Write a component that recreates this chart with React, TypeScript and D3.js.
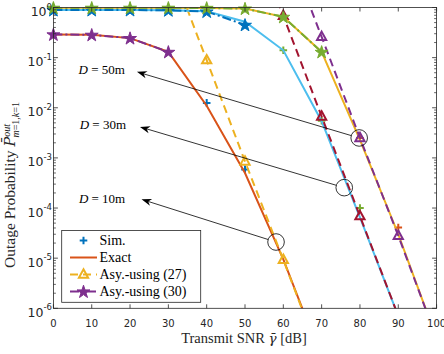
import * as d3 from 'd3';

const W = 444;
const H = 354;

const BLUE = '#0072BD';
const ORANGE = '#D95319';
const YELLOW = '#EDB120';
const PURPLE = '#7E2F8E';
const GREEN = '#77AC30';
const CYAN = '#4DBEEE';
const RED = '#A2142F';
const AX = '#262626';

const SANS = '"DejaVu Sans", Arial, sans-serif';
const SERIF = '"Liberation Serif", "Times New Roman", serif';
const MATH = '"DejaVu Serif", serif';

const xTicks = [0, 10, 20, 30, 40, 50, 60, 70, 80, 90, 100];
const yExps = [0, -1, -2, -3, -4, -5, -6];

// D = 10 m
const sim10X = [40, 50];
const sim10Y = [0.0125, 5.9e-4];
const exact10X = [0, 10, 20, 30, 40, 50, 60, 70];
const exact10Y = [0.29, 0.285, 0.245, 0.13, 0.011, 5e-4, 9.5e-6, 1e-7];
const asy27_10X = [30, 40, 50, 60, 70];
const asy27_10Y = [9, 0.089, 8.5e-4, 9.3e-6, 9e-8];
const asy30_10X = [0, 10, 20, 30];
const asy30_10Y = [0.29, 0.285, 0.245, 0.13];

// D = 30 m
const sim30X = [60, 70, 80];
const sim30Y = [0.14, 5.5e-3, 1.0e-4];
const exact30X = [0, 10, 20, 30, 40, 50, 60, 70, 80, 90];
const exact30Y = [0.89, 0.89, 0.89, 0.88, 0.84, 0.52, 0.14, 5.4e-3, 6.5e-5, 7e-7];
const asy27_30X = [50, 60, 70, 80, 90];
const asy27_30Y = [68, 0.68, 6.7e-3, 6.9e-5, 7e-7];
const asy30_30X = [0, 10, 20, 30, 40, 50];
const asy30_30Y = [0.89, 0.89, 0.89, 0.88, 0.83, 0.45];

// D = 50 m
const sim50X = [80, 90];
const sim50Y = [2.5e-3, 4.1e-5];
const exact50X = [0, 10, 20, 30, 40, 50, 60, 70, 80, 90, 100];
const exact50Y = [0.985, 0.985, 0.985, 0.985, 0.98, 0.95, 0.65, 0.13, 2.3e-3, 3e-5, 2.5e-7];
const asy27_50X = [60, 70, 80, 90, 100];
const asy27_50Y = [25, 0.26, 2.5e-3, 2.8e-5, 2.5e-7];
const asy30_50X = [0, 10, 20, 30, 40, 50, 60, 70];
const asy30_50Y = [0.985, 0.985, 0.985, 0.985, 0.98, 0.95, 0.65, 0.13];

// annotations: label, circled point, text centre, arrow tip (data coords)
const notes = [
  { label: '50m', circle: [79.8, 2.5e-3], text: [12.6, 0.057], tip: [21.8, 0.052] },
  { label: '30m', circle: [75.9, 2.55e-4], text: [12.9, 4.6e-3], tip: [22.6, 4.15e-3] },
  { label: '10m', circle: [58.1, 2.1e-5], text: [12.7, 1.56e-4], tip: [23.0, 1.49e-4] },
];

type Kind = 'sim' | 'exact' | 'asy27' | 'asy30';

const series: { x: number[]; y: number[]; kind: Kind; color: string }[] = [
  { x: sim10X, y: sim10Y, kind: 'sim', color: BLUE },
  { x: exact10X, y: exact10Y, kind: 'exact', color: ORANGE },
  { x: asy27_10X, y: asy27_10Y, kind: 'asy27', color: YELLOW },
  { x: asy30_10X, y: asy30_10Y, kind: 'asy30', color: PURPLE },
  { x: sim30X, y: sim30Y, kind: 'sim', color: GREEN },
  { x: exact30X, y: exact30Y, kind: 'exact', color: CYAN },
  { x: asy27_30X, y: asy27_30Y, kind: 'asy27', color: RED },
  { x: asy30_30X, y: asy30_30Y, kind: 'asy30', color: BLUE },
  { x: sim50X, y: sim50Y, kind: 'sim', color: ORANGE },
  { x: exact50X, y: exact50Y, kind: 'exact', color: YELLOW },
  { x: asy27_50X, y: asy27_50Y, kind: 'asy27', color: PURPLE },
  { x: asy30_50X, y: asy30_50Y, kind: 'asy30', color: GREEN },
];

const legendItems: { label: string; kind: Kind; color: string }[] = [
  { label: 'Sim.', kind: 'sim', color: BLUE },
  { label: 'Exact', kind: 'exact', color: ORANGE },
  { label: 'Asy.-using (27)', kind: 'asy27', color: YELLOW },
  { label: 'Asy.-using (30)', kind: 'asy30', color: PURPLE },
];

const DASH: Record<Kind, string | undefined> = {
  sim: undefined,
  exact: undefined,
  asy27: '8,5',
  asy30: '9,3,2,3',
};

function starPath(R: number) {
  const r = R * 0.382;
  let d = '';
  for (let i = 0; i < 10; i++) {
    const a = -Math.PI / 2 + (i * Math.PI) / 5;
    const rr = i % 2 === 0 ? R : r;
    d += (i ? 'L' : 'M') + (rr * Math.cos(a)).toFixed(2) + ',' + (rr * Math.sin(a)).toFixed(2);
  }
  return d + 'Z';
}

function Marker({ kind, color, cx, cy }: { kind: Kind; color: string; cx: number; cy: number }) {
  if (kind === 'sim') {
    return <path d="M-3.8,0H3.8M0,-3.8V3.8" transform={`translate(${cx},${cy})`} stroke={color} strokeWidth={2} fill="none" />;
  }
  if (kind === 'asy27') {
    return <path d="M0,-5.2L4.6,3.2L-4.6,3.2Z" transform={`translate(${cx},${cy})`} stroke={color} strokeWidth={2} fill="none" />;
  }
  if (kind === 'asy30') {
    return <path d={starPath(6.8)} transform={`translate(${cx},${cy + 0.5})`} stroke={color} strokeWidth={1} fill={color} />;
  }
  return null;
}

export default function App() {
  const x = d3.scaleLinear().domain([0, 100]).range([53.4, 436.6]);
  const y = d3.scaleLog().domain([1e-6, 1]).range([308.3, 7.5]);
  const [x0, x1] = x.range();
  const [yb, yt] = y.range();
  const line = d3.line<[number, number]>().x(d => x(d[0])).y(d => y(d[1]));

  const minor: number[] = [];
  for (let e = -6; e < 0; e++) for (let m = 2; m <= 9; m++) minor.push(m * Math.pow(10, e));

  return (
    <svg width={W} height={H} style={{ position: 'fixed', left: 0, top: 0 }}>
      <defs>
        <clipPath id="plot">
          <rect x={x0} y={yt} width={x1 - x0} height={yb - yt} />
        </clipPath>
      </defs>
      <rect width={W} height={H} fill="#fff" />

      {/* curves */}
      {series.map((s, i) => {
        const pts = s.x.map((v, j) => [v, s.y[j]] as [number, number]);
        return (
          <g key={i}>
            {s.kind !== 'sim' && (
              <path d={line(pts) || ''} clipPath="url(#plot)" fill="none" stroke={s.color} strokeWidth={2}
                strokeDasharray={DASH[s.kind]} />
            )}
            {pts.filter(p => p[1] <= 1.02 && p[1] >= 0.98e-6).map((p, j) => (
              <Marker key={j} kind={s.kind} color={s.color} cx={x(p[0])} cy={y(p[1])} />
            ))}
          </g>
        );
      })}

      {/* axes box and ticks */}
      <rect x={x0} y={yt} width={x1 - x0} height={yb - yt} fill="none" stroke={AX} strokeWidth={0.8} />
      {xTicks.map(t => (
        <g key={t}>
          <line x1={x(t)} x2={x(t)} y1={yb} y2={yb - 4} stroke={AX} strokeWidth={0.8} />
          <line x1={x(t)} x2={x(t)} y1={yt} y2={yt + 4} stroke={AX} strokeWidth={0.8} />
          <text x={x(t)} y={327.3} textAnchor="middle" fontFamily={SANS} fontSize={10} fill={AX}>{t}</text>
        </g>
      ))}
      {yExps.map(e => {
        const yy = y(Math.pow(10, e));
        return (
          <g key={e}>
            <line x1={x0} x2={x0 + 4.5} y1={yy} y2={yy} stroke={AX} strokeWidth={0.8} />
            <line x1={x1} x2={x1 - 4.5} y1={yy} y2={yy} stroke={AX} strokeWidth={0.8} />
            <text x={52} y={yy + 8.5} textAnchor="end" fontFamily={SANS} fontSize={12.5} fill={AX}>
              10<tspan dy={-6.5} fontSize={8.5}>{e}</tspan>
            </text>
          </g>
        );
      })}
      {minor.map((v, i) => (
        <g key={i}>
          <line x1={x0} x2={x0 + 2.5} y1={y(v)} y2={y(v)} stroke={AX} strokeWidth={0.7} />
          <line x1={x1} x2={x1 - 2.5} y1={y(v)} y2={y(v)} stroke={AX} strokeWidth={0.7} />
        </g>
      ))}

      {/* annotations */}
      {notes.map(n => {
        const cx = x(n.circle[0]);
        const cy = y(n.circle[1]);
        const tx = x(n.tip[0]);
        const ty = y(n.tip[1]);
        const r = 8.3;
        const len = Math.hypot(tx - cx, ty - cy);
        const dx = (tx - cx) / len;
        const dy = (ty - cy) / len;
        const nx = -dy;
        const ny = dx;
        const L = 10;
        const w = 3.6;
        const head = `M${tx},${ty}L${tx - dx * L + nx * w},${ty - dy * L + ny * w}L${tx - dx * (L - 3)},${ty - dy * (L - 3)}L${tx - dx * L - nx * w},${ty - dy * L - ny * w}Z`;
        return (
          <g key={n.label}>
            <circle cx={cx} cy={cy} r={r} fill="none" stroke="#000" strokeWidth={0.8} />
            <line x1={cx + dx * r} y1={cy + dy * r} x2={tx - dx * 7} y2={ty - dy * 7} stroke="#000" strokeWidth={0.8} />
            <path d={head} fill="#000" />
            <text x={x(n.text[0])} y={y(n.text[1]) + 4.5} textAnchor="middle" fontFamily={SERIF} fontSize={13} fill="#000">
              <tspan fontStyle="italic">D</tspan> = {n.label}
            </text>
          </g>
        );
      })}

      {/* legend */}
      <rect x={61.7} y={230.5} width={139} height={71.8} fill="#fff" stroke={AX} strokeWidth={0.8} />
      {legendItems.map((it, i) => {
        const ly = 240.5 + i * 17;
        return (
          <g key={it.label}>
            {it.kind !== 'sim' && (
              <line x1={70} x2={97} y1={ly} y2={ly} stroke={it.color} strokeWidth={2} strokeDasharray={DASH[it.kind]} />
            )}
            <Marker kind={it.kind} color={it.color} cx={83.5} cy={ly} />
            <text x={99.5} y={ly + 4.8} fontFamily={SERIF} fontSize={14} fill="#000">{it.label}</text>
          </g>
        );
      })}

      {/* axis labels */}
      <text x={244} y={342.5} textAnchor="middle" fontFamily={SERIF} fontSize={14.5} fill={AX}>
        Transmit SNR <tspan fontFamily={MATH} fontStyle="italic" fontSize={13.5}>γ̄</tspan> [dB]
      </text>
      <text transform="translate(15,268) rotate(-90)" fontFamily={SERIF} fontSize={15.5} fill={AX}>
        Outage Probability <tspan fontFamily={MATH} fontStyle="italic" fontSize={14.5}>P̄</tspan>
        <tspan dy={-5.5} fontSize={10} fontStyle="italic">out</tspan>
        <tspan dx={-13.5} dy={9} fontSize={10}>
          <tspan fontStyle="italic">m</tspan>=1,<tspan fontStyle="italic">k</tspan>=1
        </tspan>
      </text>
    </svg>
  );
}
